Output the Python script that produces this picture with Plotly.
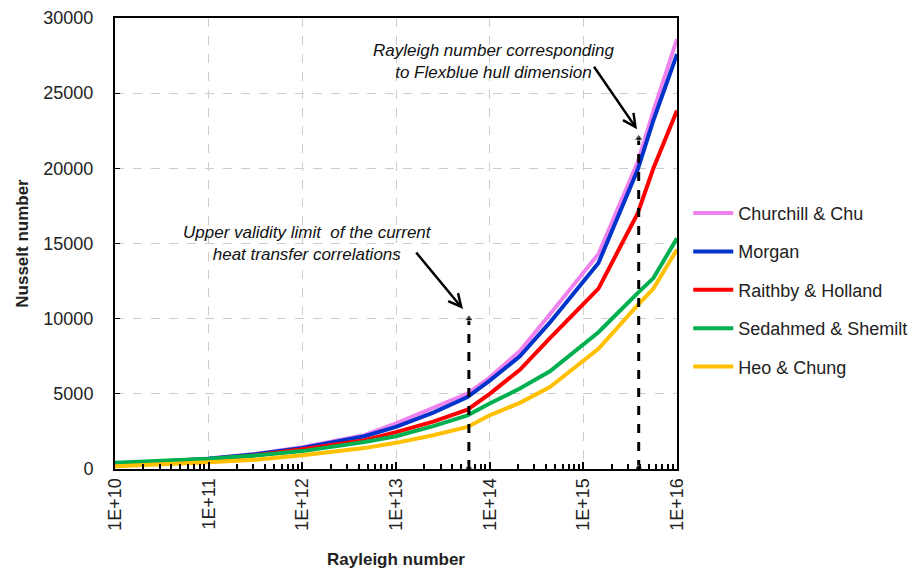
import plotly.graph_objects as go

# Rayleigh numbers (x) shared by all series
rayleigh = [1e10, 3.16e10, 1e11, 3.16e11, 1e12, 4.6e12, 1e13, 2.5e13, 5.8e13,
            1e14, 2.1e14, 4.4e14, 1.45e15, 3.8e15, 5.6e15, 1e16]

churchill_chu = [330, 480, 700, 1000, 1450, 2250, 3040, 4050, 5020,
                 6080, 7850, 10300, 14300, 20400, 23800, 28600]
morgan = [320, 470, 680, 980, 1400, 2180, 2800, 3750, 4780,
          5880, 7500, 9750, 13700, 19900, 23200, 27600]
raithby_holland = [280, 430, 630, 920, 1320, 1920, 2450, 3150, 3950,
                   5000, 6600, 8700, 12000, 17000, 20000, 23850]
sedahmed_shemilt = [420, 540, 680, 900, 1190, 1790, 2180, 2850, 3570,
                    4360, 5350, 6500, 9100, 11700, 12700, 15350]
heo_chung = [180, 300, 450, 620, 920, 1390, 1740, 2250, 2800,
             3570, 4400, 5450, 8000, 10900, 12000, 14600]

series_names = ["Churchill & Chu", "Morgan", "Raithby & Holland",
                "Sedahmed & Shemilt", "Heo & Chung"]
series_values = [churchill_chu, morgan, raithby_holland, sedahmed_shemilt, heo_chung]
series_colors = ["#EE82EE", "#0033CC", "#FF0000", "#00B050", "#FFC000"]

# Marker lines
validity_limit_ra = 6.0e13
validity_limit_nu = 10000
flexblue_ra = 3.9e15
flexblue_nu = 22000

x_tickvals = [1e10, 1e11, 1e12, 1e13, 1e14, 1e15, 1e16]
x_ticktext = ["1E+10", "1E+11", "1E+12", "1E+13", "1E+14", "1E+15", "1E+16"]
y_tickvals = [0, 5000, 10000, 15000, 20000, 25000, 30000]
y_ticktext = ["0", "5000", "10000", "15000", "20000", "25000", "30000"]

FONT = "Liberation Sans"

fig = go.Figure()

for i, (name, vals, col) in enumerate(zip(series_names, series_values, series_colors)):
    fig.add_trace(go.Scatter(
        x=rayleigh, y=vals, mode="lines", name=name,
        line=dict(color=col, width=4), legendgroup=f"g{i}",
    ))

for ra, nu in [(validity_limit_ra, validity_limit_nu), (flexblue_ra, flexblue_nu)]:
    fig.add_trace(go.Scatter(
        x=[ra, ra], y=[0, nu], mode="lines+markers", showlegend=False,
        line=dict(color="black", width=3, dash="dash"),
        marker=dict(symbol=["circle", "triangle-up"], size=[7, 8], color="black"),
        hoverinfo="skip",
    ))

fig.add_annotation(
    x=13.715, y=10640, xref="x", yref="y", ax=-48, ay=-58,
    showarrow=True, arrowhead=5, arrowsize=1, arrowwidth=2.5, arrowcolor="black", text="",
)
fig.add_annotation(
    x=15.573, y=22600, xref="x", yref="y", ax=-44, ay=-64,
    showarrow=True, arrowhead=5, arrowsize=1, arrowwidth=2.5, arrowcolor="black", text="",
)
fig.add_annotation(
    x=12.06, y=15000, xref="x", yref="y", showarrow=False,
    text="<i>Upper validity limit  of the current<br>heat transfer correlations</i>",
    font=dict(family=FONT, size=17, color="#111"), align="center",
)
fig.add_annotation(
    x=14.046, y=27100, xref="x", yref="y", showarrow=False,
    text="<i>Rayleigh number corresponding<br>to Flexblue hull dimension</i>",
    font=dict(family=FONT, size=17, color="#111"), align="center",
)

fig.update_layout(
    width=920, height=575,
    margin=dict(l=107, r=251, t=10, b=114),
    plot_bgcolor="white", paper_bgcolor="white",
    font=dict(family=FONT, size=18, color="#222"),
    showlegend=True,
    legend=dict(x=1.02, y=0.608, xanchor="left", yanchor="top",
                font=dict(family=FONT, size=18, color="#222"),
                tracegroupgap=12, itemwidth=40, bgcolor="rgba(0,0,0,0)"),
)

fig.update_xaxes(
    type="log", range=[10, 16], automargin=False,
    tickvals=x_tickvals, ticktext=x_ticktext, tickangle=-90,
    ticks="inside", ticklen=7, tickwidth=1.5, tickcolor="black",
    minor=dict(ticks="inside", ticklen=5, tickcolor="black", tickwidth=1.5, dtick="D1", showgrid=False),
    showgrid=True, gridcolor="#cccccc", griddash="dash", gridwidth=1,
    showline=True, linecolor="black", linewidth=2, mirror=True,
    tickfont=dict(family=FONT, size=18, color="#222"),
    title=dict(text="<b>Rayleigh number</b>", font=dict(family=FONT, size=17, color="#222"), standoff=23),
    zeroline=False,
)
fig.update_yaxes(
    range=[0, 30000], tickvals=y_tickvals, ticktext=y_ticktext, automargin=False,
    ticks="inside", ticklen=5, tickcolor="black", ticklabelstandoff=16,
    ticklabeloverflow="allow",
    showgrid=True, gridcolor="#cccccc", griddash="dash", gridwidth=1,
    showline=True, linecolor="black", linewidth=2, mirror=True,
    tickfont=dict(family=FONT, size=18, color="#222"),
    title=dict(text="<b>Nusselt number</b>", font=dict(family=FONT, size=17, color="#222"), standoff=10),
    zeroline=False,
)

fig.write_html("out.html")
